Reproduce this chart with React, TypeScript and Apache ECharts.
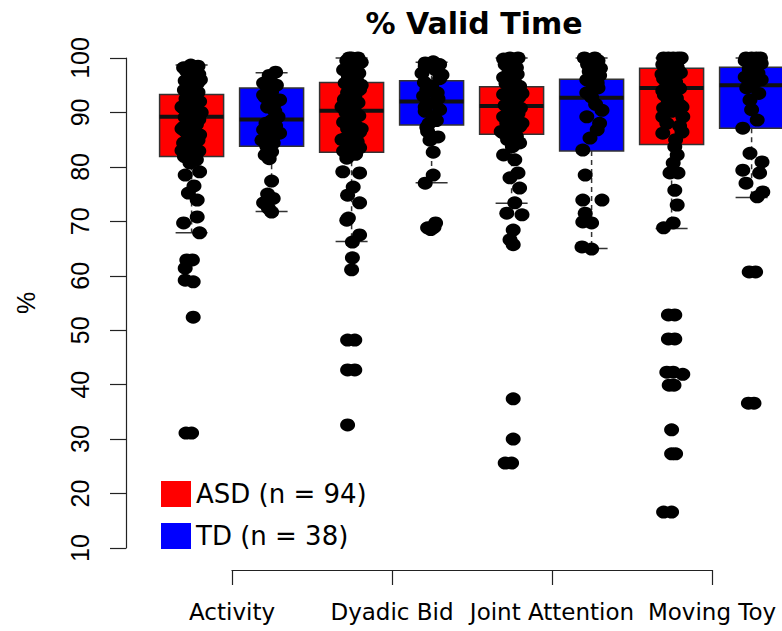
import React, { useEffect, useRef } from "react";
import * as echarts from "echarts";

const categories = ["Activity", "Dyadic Bid", "Joint Attention", "Moving Toy"];
const groupNames = ["ASD (n = 94)", "TD (n = 38)"];
const yTicks = { min: 10, max: 100, step: 10 };

// [lower whisker, Q1, median, Q3, upper whisker]
const asdBoxes = [
  [67.9, 81.9, 89.2, 93.3, 98.7],
  [66.3, 82.7, 90.3, 95.5, 100],
  [73.3, 86.0, 91.2, 94.7, 100],
  [68.7, 84.1, 94.5, 98.1, 100],
];
const tdBoxes = [
  [71.8, 83.8, 88.7, 94.5, 97.3],
  [77.1, 87.7, 92.0, 95.8, 99.2],
  [65.0, 82.9, 92.7, 96.1, 100],
  [74.4, 87.1, 95.0, 98.3, 100],
];

// points: [value, horizontal jitter]
const asdActivity = [
  [31.1, -0.07], [31.1, 0.0], [52.4, 0.02], [58.9, 0.02], [59.2, -0.08], [61.4, -0.08], [62.9, -0.06], [62.9, 0.01],
  [67.9, 0.1], [69.7, -0.1], [70.8, 0.07], [73.9, 0.07], [75.2, -0.04], [76.5, 0.03], [78.5, -0.08], [79.1, 0.1], [80.7, -0.02],
  [81.3, 0.06], [81.9, -0.09], [82.4, 0.02], [82.9, 0.09], [83.4, -0.05], [83.9, 0.04], [84.4, -0.1], [84.9, 0.08],
  [85.4, -0.02], [85.9, 0.1], [86.4, -0.07], [86.9, 0.03], [87.3, -0.1], [87.8, 0.06], [88.2, -0.03], [88.7, 0.09],
  [89.1, -0.08], [89.5, 0.02], [89.9, -0.05], [90.3, 0.08], [90.8, -0.1], [91.2, 0.04], [91.6, -0.02], [92.0, 0.1],
  [92.5, -0.07], [92.9, 0.05], [93.3, -0.04], [93.7, 0.08], [94.1, -0.09], [94.5, 0.01], [94.9, -0.05], [95.3, 0.07],
  [95.8, -0.08], [96.2, 0.03], [96.6, -0.02], [97.0, 0.09], [97.5, -0.06], [97.8, 0.04], [98.2, -0.1], [98.5, 0.08],
  [98.7, -0.01], [98.0, 0.0], [96.0, 0.11], [93.0, 0.0], [90.0, 0.12], [87.0, -0.12], [85.0, 0.0], [83.0, -0.12], [91.0, -0.12],
];
const tdActivity = [
  [97.4, 0.05], [96.8, -0.03], [96.0, -0.02], [95.4, -0.1], [95.0, 0.06], [94.5, -0.05], [93.8, 0.0], [93.2, -0.1],
  [92.8, -0.08], [92.3, 0.1], [91.5, 0.03], [91.0, -0.05], [90.2, 0.04], [89.2, 0.08], [88.5, 0.0], [88.0, -0.07],
  [87.5, 0.05], [86.8, -0.1], [86.2, 0.1], [85.5, 0.02], [84.9, -0.12], [84.4, 0.02], [83.8, -0.06], [82.8, 0.0],
  [82.2, -0.08], [81.5, -0.03], [77.4, 0.0], [75.0, -0.05], [74.2, 0.02], [73.4, -0.1], [72.4, -0.04], [71.7, 0.0],
];
const asdDyadic = [
  [32.6, -0.05], [42.7, -0.05], [42.7, 0.04], [48.2, -0.05], [48.2, 0.04], [61.1, 0.0], [63.3, 0.01], [66.2, 0.01],
  [67.5, 0.1], [70.2, -0.06], [70.6, -0.04], [73.4, 0.1], [74.8, -0.05], [76.3, 0.02], [78.9, 0.1], [79.1, -0.11], [81.6, -0.06],
  [82.3, 0.05], [82.9, -0.1], [83.5, 0.1], [84.0, -0.03], [84.6, 0.07], [85.2, -0.08], [85.8, 0.02], [86.4, 0.1],
  [87.0, -0.05], [87.6, 0.05], [88.2, -0.1], [88.8, 0.0], [89.4, 0.09], [90.0, -0.07], [90.6, 0.03], [91.2, -0.03],
  [91.8, 0.08], [92.4, -0.09], [93.0, 0.04], [93.6, -0.05], [94.2, 0.1], [94.8, -0.01], [95.4, -0.08], [96.0, 0.06],
  [96.6, -0.04], [97.2, 0.09], [97.8, -0.1], [98.4, 0.02], [99.0, 0.07], [99.5, -0.06], [100, 0.0], [100, 0.08],
  [100, -0.03], [99.2, 0.12], [95.0, 0.12], [91.0, -0.12], [87.0, 0.12], [85.0, -0.12],
];
const tdDyadic = [
  [68.8, -0.05], [68.9, 0.03], [69.7, 0.05], [68.5, -0.01], [77.0, -0.08], [78.5, 0.02], [82.7, 0.02], [84.9, -0.02],
  [85.5, 0.08], [86.5, -0.05], [87.3, -0.06], [88.5, 0.06], [89.2, 0.02], [90.2, -0.08], [91.0, -0.08], [91.8, 0.04],
  [92.5, 0.08], [93.6, 0.07], [94.1, -0.06], [94.8, 0.0], [95.5, -0.09], [96.2, 0.1], [96.9, 0.13], [97.2, -0.12],
  [97.8, 0.05], [98.5, -0.08], [99.1, -0.08], [99.3, 0.02], [98.8, 0.1], [93.0, -0.1], [90.5, 0.1], [88.0, -0.03],
];
const asdJoint = [
  [25.6, -0.08], [25.6, 0.0], [30.0, 0.02], [37.4, 0.02], [65.7, 0.02], [66.6, -0.02], [68.4, 0.02], [71.2, 0.13],
  [71.5, -0.06], [73.4, 0.04], [76.1, 0.1], [78.0, -0.02], [78.9, 0.08], [81.3, 0.04], [82.2, -0.1], [83.7, 0.01],
  [84.4, 0.1], [85.0, -0.05], [85.6, 0.06], [86.2, -0.1], [86.8, 0.02], [87.4, 0.1], [88.0, -0.06], [88.6, 0.04],
  [89.2, -0.1], [89.8, 0.08], [90.3, -0.02], [90.8, 0.11], [91.3, -0.08], [91.8, 0.03], [92.3, -0.04], [92.8, 0.09],
  [93.3, -0.1], [93.8, 0.05], [94.3, -0.02], [94.8, 0.1], [95.3, -0.07], [95.8, 0.03], [96.4, -0.1], [97.0, 0.07],
  [97.6, -0.03], [98.2, 0.06], [98.8, -0.08], [99.4, 0.02], [100, 0.08], [100, -0.02], [99.8, -0.1], [91.0, 0.0],
  [88.0, 0.13], [93.5, 0.13], [86.5, -0.13],
];
const tdJoint = [
  [64.9, 0.0], [65.3, -0.12], [69.7, 0.0], [69.9, -0.11], [71.5, -0.08], [73.9, -0.11], [73.9, 0.13], [78.5, -0.08],
  [83.1, -0.11], [85.3, -0.02], [86.8, 0.07], [88.0, 0.1], [89.2, -0.06], [90.4, 0.13], [91.5, 0.05], [92.8, 0.0],
  [93.6, -0.06], [94.5, 0.08], [95.4, 0.07], [96.0, -0.06], [96.8, 0.1], [97.5, -0.03], [98.1, 0.11], [98.8, -0.05],
  [100, -0.09], [100, 0.04], [99.5, 0.08], [97.0, 0.0], [94.0, 0.0],
];
const asdMoving = [
  [16.6, -0.1], [16.6, 0.0], [27.3, 0.0], [27.3, 0.05], [31.7, 0.0], [39.9, -0.03], [39.9, 0.03], [41.9, 0.14],
  [42.3, -0.06], [42.3, 0.02], [48.4, -0.04], [48.4, 0.04], [52.8, -0.04], [52.8, 0.04], [68.8, -0.1], [69.7, 0.02],
  [73.0, 0.07], [75.7, 0.04], [78.9, -0.02], [78.9, 0.08], [80.7, 0.02], [82.2, 0.07], [83.7, 0.04], [86.2, -0.11],
  [86.4, 0.13], [89.2, -0.11], [89.2, 0.14], [85.0, 0.05], [87.5, 0.1], [88.0, -0.06], [90.2, 0.0], [90.8, -0.1],
  [91.4, 0.1], [92.0, -0.04], [92.6, 0.06], [93.2, -0.09], [93.8, 0.02], [94.4, 0.1], [95.0, -0.06], [95.6, 0.05],
  [96.2, -0.1], [96.8, 0.0], [97.3, 0.11], [97.8, -0.05], [98.3, 0.07], [98.8, -0.11], [99.2, 0.03], [99.6, -0.04],
  [100, -0.1], [100, -0.04], [100, 0.02], [100, 0.08], [100, 0.12], [99.8, 0.1], [97.0, -0.12], [94.0, -0.11], [91.0, 0.13],
];
const tdMoving = [
  [36.6, -0.04], [36.6, 0.03], [60.7, -0.03], [60.7, 0.05], [74.5, 0.07], [75.4, 0.14], [77.0, -0.07], [78.9, 0.1],
  [79.4, -0.11], [80.9, 0.13], [82.5, -0.02], [87.1, -0.11], [88.6, 0.07], [90.5, 0.0], [92.3, -0.02], [93.5, 0.09],
  [94.5, -0.06], [95.5, 0.04], [96.5, -0.08], [97.2, 0.08], [98.0, -0.03], [98.8, 0.05], [99.5, -0.08], [100, -0.07],
  [100, 0.0], [100, 0.06], [100, 0.11], [99.0, 0.12], [96.0, 0.12],
];

const asdPoints = [asdActivity, asdDyadic, asdJoint, asdMoving];
const tdPoints = [tdActivity, tdDyadic, tdJoint, tdMoving];
const groupColors = ["#FF0000", "#0000FF"];

export default function App() {
  const ref = useRef<HTMLDivElement>(null);
  useEffect(() => {
    if (!ref.current) return;
    const chart = echarts.init(ref.current, null, { renderer: "svg" });

    const boxData = (boxes: number[][], offset: number) =>
      boxes.map((b, i) => [2 * i + offset, ...b]);
    const pointData: number[][] = [];
    asdPoints.forEach((pts, i) => pts.forEach(([v, j]) => pointData.push([2 * i + 1 + j, v])));
    tdPoints.forEach((pts, i) => pts.forEach(([v, j]) => pointData.push([2 * i + 2 + j, v])));

    const renderBox = (color: string) => (params: any, api: any) => {
      const x = api.value(0);
      const lo = api.coord([x, api.value(1)]);
      const q1 = api.coord([x, api.value(2)]);
      const med = api.coord([x, api.value(3)]);
      const q3 = api.coord([x, api.value(4)]);
      const hi = api.coord([x, api.value(5)]);
      const half = api.size([0.4, 0])[0];
      const cap = half / 2;
      const cx = med[0];
      const dash = { stroke: "#333", lineWidth: 1.5, lineDash: [5, 4] };
      const solid = { stroke: "#333", lineWidth: 1.5 };
      return {
        type: "group",
        children: [
          { type: "line", shape: { x1: cx, y1: q3[1], x2: cx, y2: hi[1] }, style: dash },
          { type: "line", shape: { x1: cx, y1: q1[1], x2: cx, y2: lo[1] }, style: dash },
          { type: "line", shape: { x1: cx - cap, y1: hi[1], x2: cx + cap, y2: hi[1] }, style: solid },
          { type: "line", shape: { x1: cx - cap, y1: lo[1], x2: cx + cap, y2: lo[1] }, style: solid },
          {
            type: "rect",
            shape: { x: cx - half, y: q3[1], width: 2 * half, height: q1[1] - q3[1] },
            style: { fill: color, stroke: "#333", lineWidth: 1.5 },
          },
          {
            type: "line",
            shape: { x1: cx - half, y1: med[1], x2: cx + half, y2: med[1] },
            style: { stroke: "#111", lineWidth: 4 },
          },
        ],
      };
    };

    chart.setOption({
      animation: false,
      backgroundColor: "#fff",
      graphic: [
        {
          type: "text",
          x: 474,
          y: 23,
          style: {
            text: "% Valid Time",
            fontFamily: "DejaVu Sans",
            fontWeight: "bold",
            fontSize: 30,
            fill: "#000",
            align: "center",
            verticalAlign: "middle",
          },
        },
      ],
      legend: {
        data: groupNames.map((n, i) => ({
          name: n,
          icon: "rect",
          itemStyle: { color: groupColors[i], borderWidth: 0 },
        })),
        orient: "vertical",
        left: 161,
        top: 481,
        padding: 0,
        itemWidth: 30,
        itemHeight: 26,
        itemGap: 16,
        selectedMode: false,
        textStyle: { fontFamily: "DejaVu Sans", fontSize: 26, color: "#000" },
      },
      grid: [
        { left: 126, right: 0, top: 58, bottom: 83 },
        { left: 232, width: 480, top: 58, bottom: 61 },
      ],
      xAxis: [
        { type: "value", gridIndex: 0, min: 0.18, max: 8.38, show: false },
        {
          type: "category",
          gridIndex: 1,
          data: categories,
          boundaryGap: false,
          axisLine: { lineStyle: { color: "#222", width: 1.2 } },
          axisTick: { length: 15, lineStyle: { color: "#222", width: 1.2 } },
          axisLabel: {
            interval: 0,
            margin: 30,
            fontFamily: "DejaVu Sans",
            fontSize: 23,
            color: "#000",
          },
          splitLine: { show: false },
        },
      ],
      yAxis: [
        {
          type: "value",
          gridIndex: 0,
          min: yTicks.min,
          max: yTicks.max,
          interval: yTicks.step,
          name: "%",
          nameLocation: "middle",
          nameRotate: 90,
          nameGap: 88,
          nameTextStyle: { fontFamily: "Liberation Sans", fontSize: 25, color: "#000" },
          axisLine: { show: true, lineStyle: { color: "#222", width: 1.2 } },
          axisTick: { show: true, length: 16, lineStyle: { color: "#222", width: 1.2 } },
          axisLabel: {
            rotate: 90,
            margin: 34,
            fontFamily: "Liberation Sans",
            fontSize: 25,
            color: "#000",
          },
          splitLine: { show: false },
        },
        { type: "value", gridIndex: 1, min: 0, max: 1, show: false },
      ],
      series: [
        {
          name: groupNames[0],
          type: "custom",
          xAxisIndex: 0,
          yAxisIndex: 0,
          itemStyle: { color: groupColors[0] },
          encode: { x: 0, y: [1, 2, 3, 4, 5] },
          data: boxData(asdBoxes, 1),
          renderItem: renderBox(groupColors[0]),
          z: 2,
        },
        {
          name: groupNames[1],
          type: "custom",
          xAxisIndex: 0,
          yAxisIndex: 0,
          itemStyle: { color: groupColors[1] },
          encode: { x: 0, y: [1, 2, 3, 4, 5] },
          data: boxData(tdBoxes, 2),
          renderItem: renderBox(groupColors[1]),
          z: 2,
        },
        {
          name: "points",
          type: "scatter",
          xAxisIndex: 0,
          yAxisIndex: 0,
          symbol: "circle",
          symbolSize: [15, 13],
          itemStyle: { color: "#000", opacity: 1 },
          clip: false,
          data: pointData,
          z: 3,
        },
      ],
    });
    return () => chart.dispose();
  }, []);

  return (
    <div
      ref={ref}
      style={{ position: "fixed", left: 0, top: 0, width: 782, height: 631, background: "#fff" }}
    />
  );
}
